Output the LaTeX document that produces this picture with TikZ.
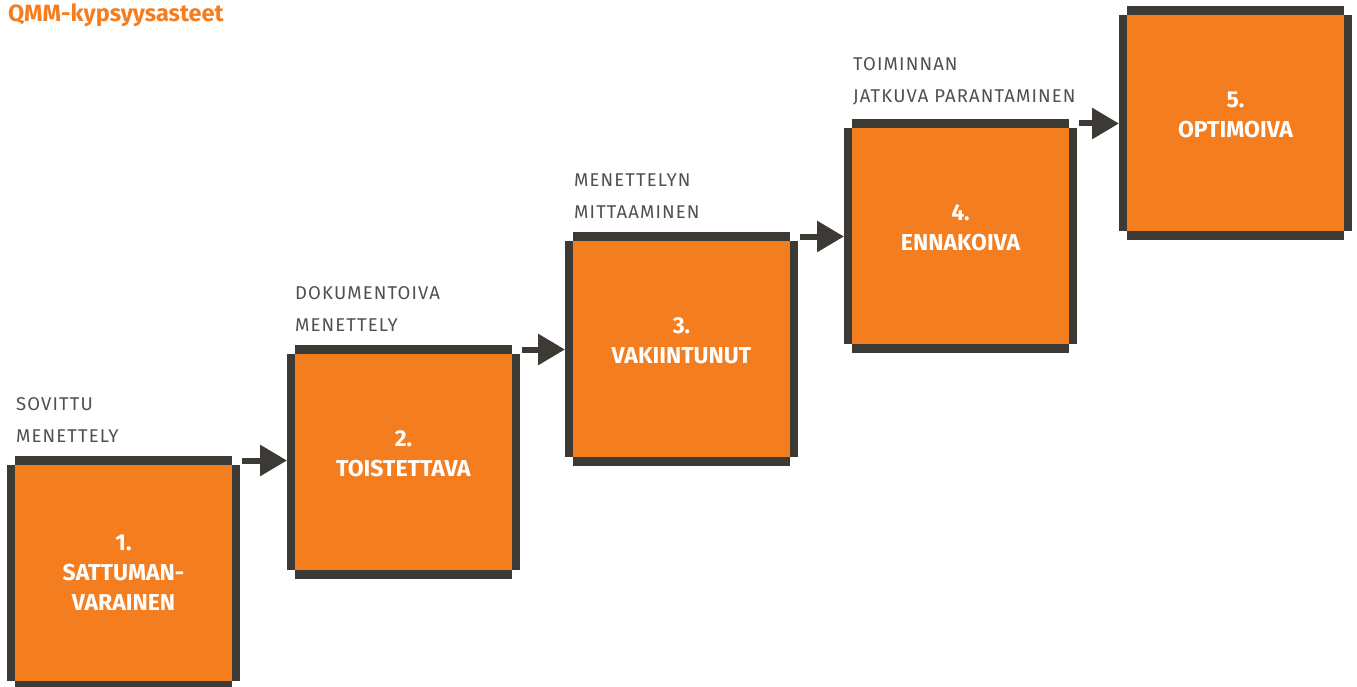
\documentclass[tikz,border=0pt]{standalone}
\usepackage{fontspec}
\setmainfont{Fira Sans}
\newfontfamily\notefont[LetterSpace=6]{Fira Sans}
\usetikzlibrary{calc,arrows.meta}

\definecolor{stepOrange}{HTML}{F47D20}
\definecolor{barDark}{HTML}{3D3935}
\definecolor{noteGray}{HTML}{505050}

\tikzset{
  stage/.style={fill=stepOrange, draw=none, minimum width=217pt, minimum height=216pt,
                inner sep=0pt, outer sep=0pt, anchor=north west},
  bar/.style={fill=barDark, draw=none},
  stagetext/.style={text=white, font=\bfseries\fontsize{23}{30}\selectfont, align=center, inner sep=0pt},
  note/.style={text=noteGray, font=\notefont\fontsize{18.5}{32}\selectfont, align=left, inner sep=0pt, anchor=south west},
  stepArrow/.style={draw=barDark, line width=6pt, -{Triangle[length=27pt,width=30pt]}, shorten >=8pt},
  title/.style={text=stepOrange, font=\bfseries\fontsize{23.5}{26}\selectfont, inner sep=0pt, anchor=base west}
}

% frame bars on the four sides of a stage, leaving the corners open
\newcommand{\stageframe}[1]{%
  \fill[bar] ($(#1.north west)+(0,-9)$) rectangle (#1.north east);
  \fill[bar] ($(#1.north west)+(-8,0)$) rectangle (#1.south west);
  \fill[bar] (#1.north east) rectangle ($(#1.south east)+(8,0)$);
  \fill[bar] (#1.south west) rectangle ($(#1.south east)+(0,9)$);
}

\begin{document}
\begin{tikzpicture}[x=1pt,y=-1pt]
  \useasboundingbox (0,0) rectangle (1357,687);

  \node[title] (ttl) at (8,22) {QMM-kypsyysasteet};

  % stages
  \node[stage] (b1) at (15,465) {};
  \node[stage] (b2) at (295,354) {};
  \node[stage] (b3) at (573,241) {};
  \node[stage] (b4) at (852,128) {};
  \node[stage] (b5) at (1127,15) {};

  \stageframe{b1}
  \stageframe{b2}
  \stageframe{b3}
  \stageframe{b4}
  \stageframe{b5}

  % stage names
  \node[stagetext] (t1) at (b1.center) {1.\\SATTUMAN-\\VARAINEN};
  \node[stagetext] (t2) at ($(b2.center)+(0,-8)$) {2.\\TOISTETTAVA};
  \node[stagetext] (t3) at ($(b3.center)+(0,-8)$) {3.\\VAKIINTUNUT};
  \node[stagetext] (t4) at ($(b4.center)+(0,-8)$) {4.\\ENNAKOIVA};
  \node[stagetext] (t5) at ($(b5.center)+(0,-8)$) {5.\\OPTIMOIVA};

  % transitions
  \node[note] (n1) at ($(b1.north west)+(1,-22.5)$) {SOVITTU\\MENETTELY};
  \node[note] (n2) at ($(b2.north west)+(0,-22.5)$) {DOKUMENTOIVA\\MENETTELY};
  \node[note] (n3) at ($(b3.north west)+(1,-22.5)$) {MENETTELYN\\MITTAAMINEN};
  \node[note] (n4) at ($(b4.north west)+(1,-22.5)$) {TOIMINNAN\\JATKUVA PARANTAMINEN};

  % arrows between stages
  \coordinate (a1) at ($(b1.north east)+(10,-4.5)$);
  \coordinate (a2) at ($(b2.north east)+(10,-4.5)$);
  \coordinate (a3) at ($(b3.north east)+(10,-4.5)$);
  \coordinate (a4) at ($(b4.north east)+(10,-4.5)$);
  \draw[stepArrow] (a1) -- (a1 -| b2.west);
  \draw[stepArrow] (a2) -- (a2 -| b3.west);
  \draw[stepArrow] (a3) -- (a3 -| b4.west);
  \draw[stepArrow] (a4) -- (a4 -| b5.west);
\end{tikzpicture}
\end{document}
